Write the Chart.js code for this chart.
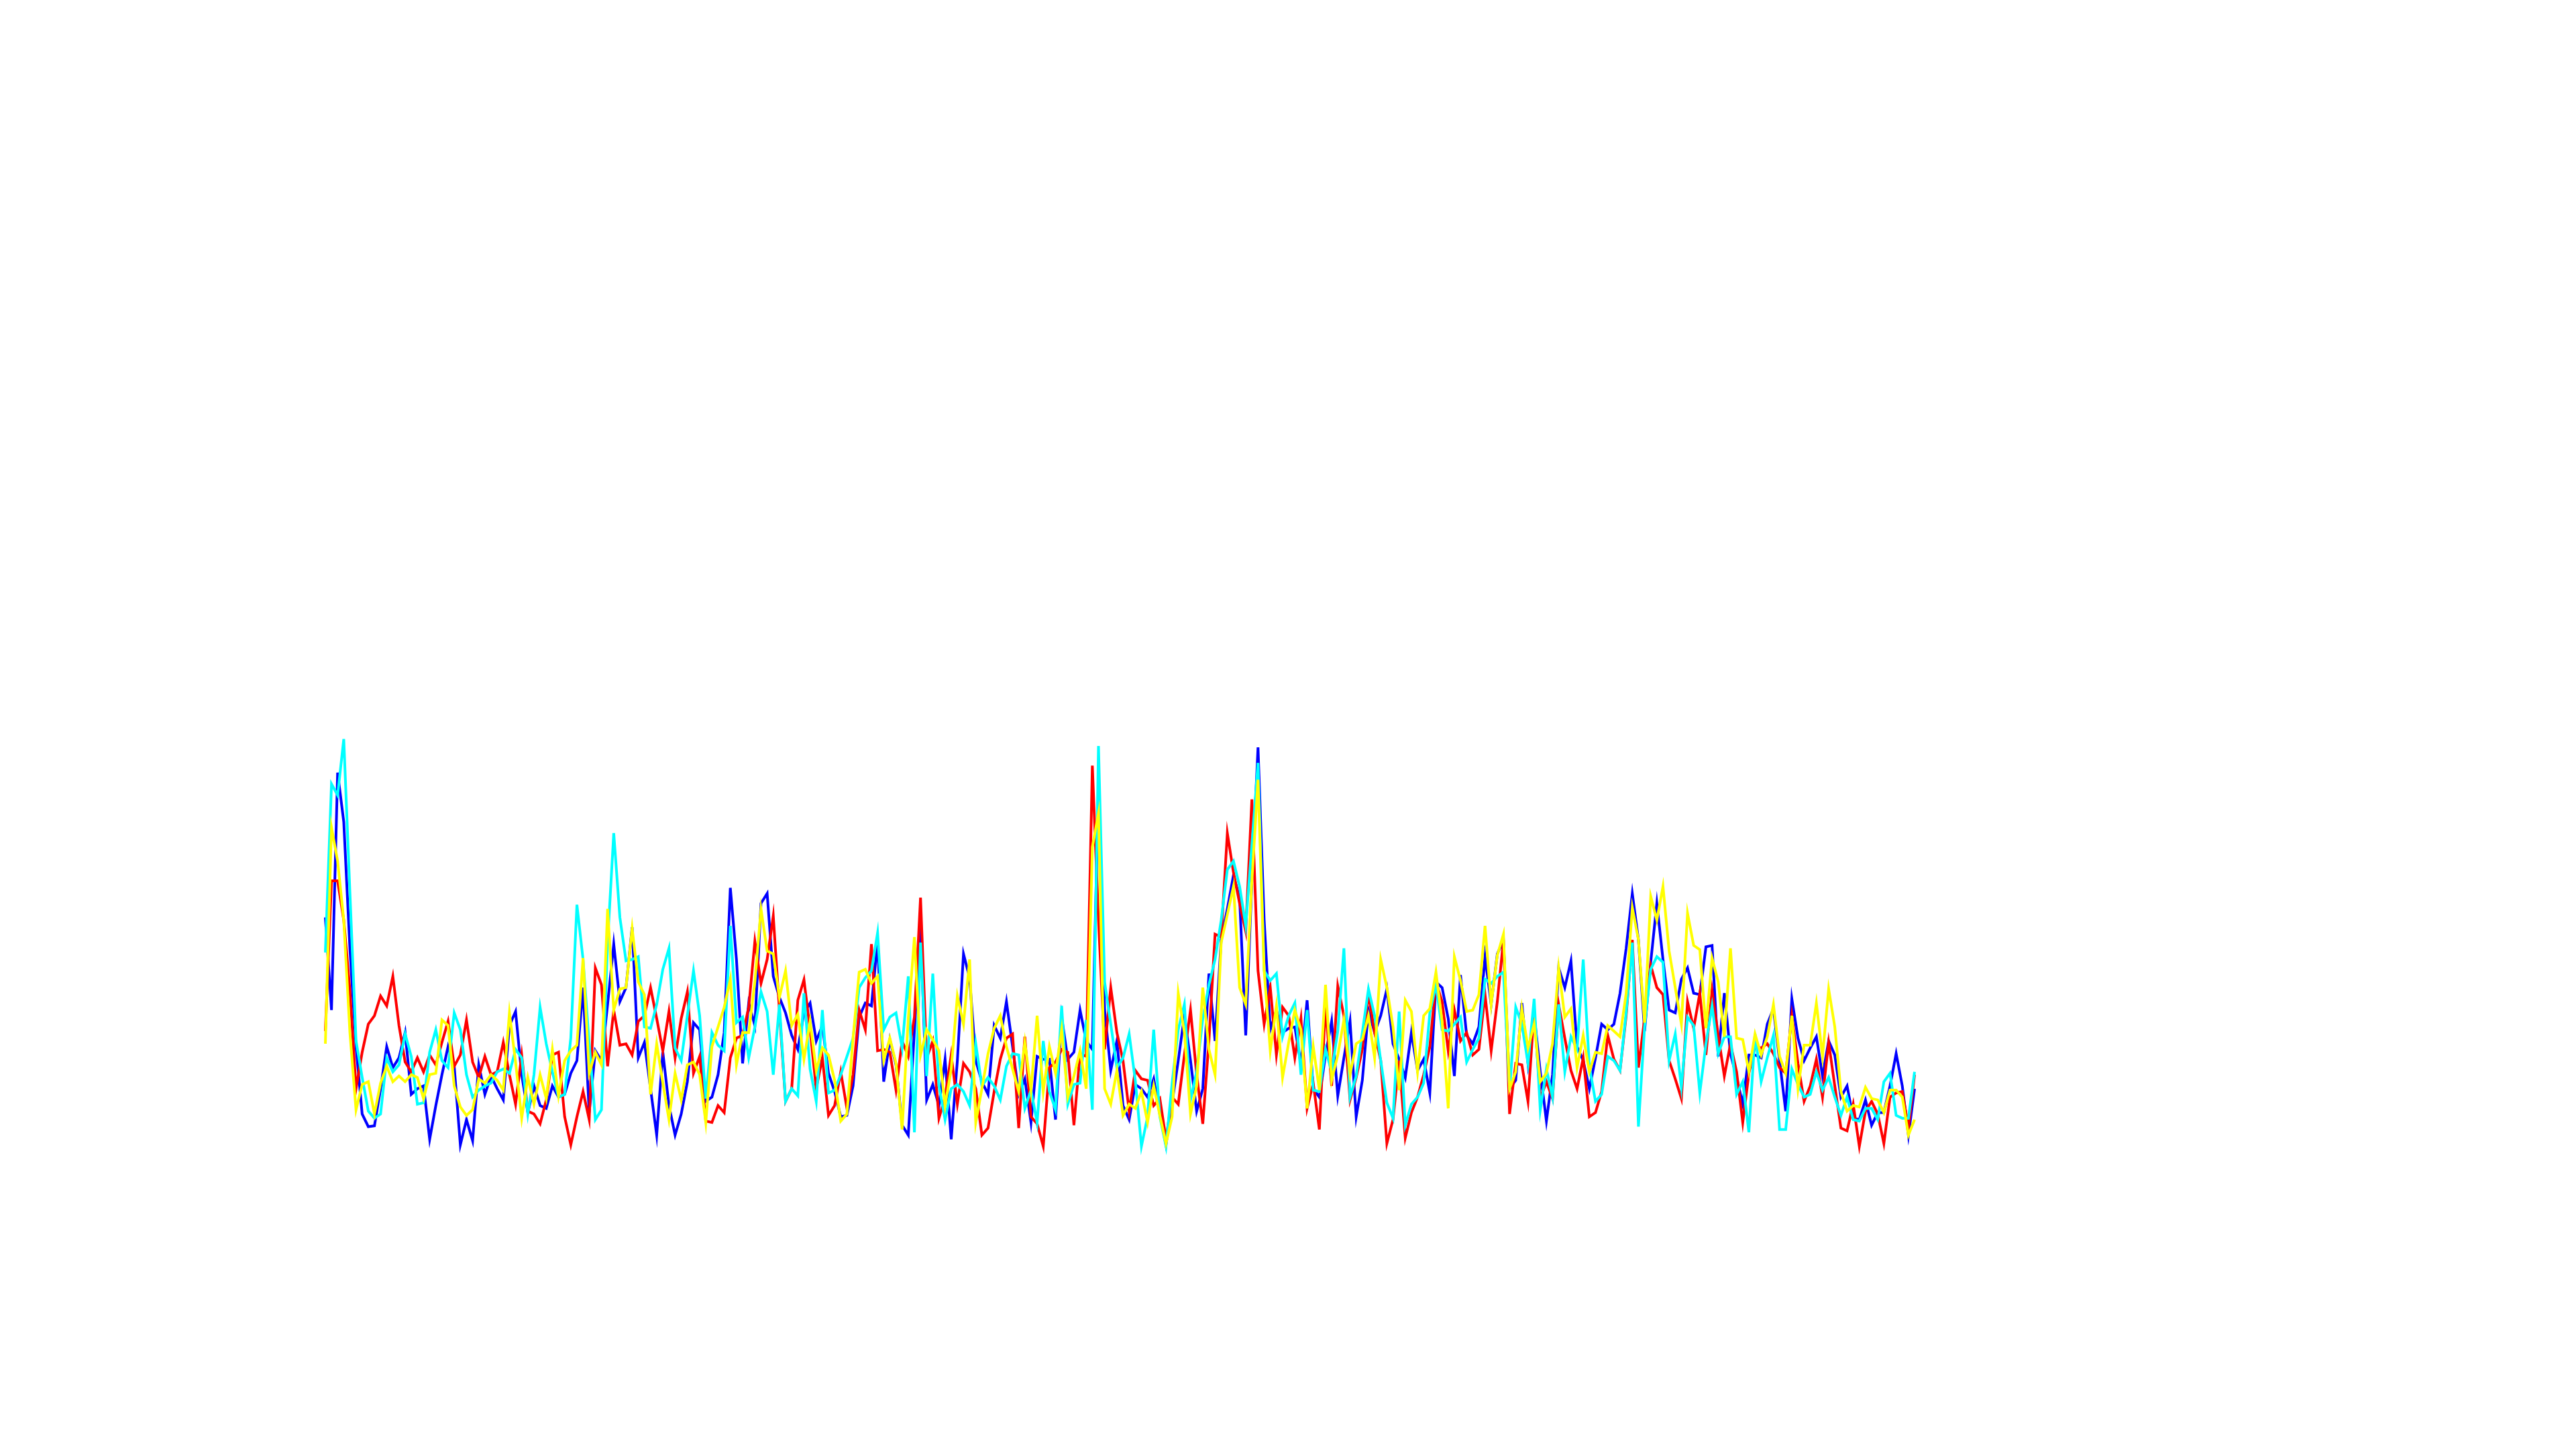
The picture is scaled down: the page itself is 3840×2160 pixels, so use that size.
<!DOCTYPE html>
<html>
<head>
<meta charset="utf-8">
<script src="https://cdn.jsdelivr.net/npm/chart.js@4.4.1/dist/chart.umd.min.js"></script>
<style>
  html, body { margin: 0; padding: 0; background: #ffffff; }
  #wrap { width: 3840px; height: 2160px; }
</style>
</head>
<body>
<div id="wrap"><canvas id="lineChart" width="3840" height="2160"></canvas></div>
<script>
// series values, one per sample
const blueSeries = [
  850, 520, 1365, 1190, 740, 390, 150, 105, 108, 240,
  390, 315, 350, 440, 220, 240, 250, 60, 180, 290,
  390, 320, 40, 130, 55, 325, 220, 285, 240, 200,
  465, 515, 290, 155, 250, 180, 170, 250, 210, 220,
  295, 340, 600, 155, 375, 340, 540, 755, 550, 600,
  815, 350, 405, 240, 75, 370, 180, 75, 150, 265,
  475, 450, 195, 210, 290, 440, 955, 700, 330, 545,
  465, 900, 935, 640, 565, 510, 430, 380, 510, 545,
  410, 465, 295, 230, 140, 145, 250, 495, 545, 535,
  765, 265, 415, 325, 110, 75, 445, 815, 200, 255,
  180, 345, 60, 340, 720, 635, 340, 265, 220, 465,
  420, 550, 390, 220, 275, 120, 355, 345, 345, 130,
  495, 345, 370, 520, 410, 380, 1320, 520, 305, 410,
  180, 130, 255, 240, 210, 275, 150, 40, 190, 340,
  500, 340, 160, 240, 650, 410, 770, 880, 1000, 920,
  430, 980, 1455, 840, 450, 520, 440, 455, 460, 325,
  555, 240, 210, 360, 480, 215, 350, 480, 140, 270,
  520, 440, 500, 595, 400, 345, 280, 440, 305, 345,
  225, 620, 600, 490, 285, 645, 430, 400, 460, 710,
  540, 720, 770, 240, 270, 545, 330, 505, 300, 125,
  290, 670, 600, 695, 390, 340, 240, 350, 470, 450,
  470, 580, 740, 935, 770, 445, 690, 900, 700, 520,
  510, 630, 670, 580, 575, 745, 750, 355, 580, 365,
  280, 185, 360, 360, 350, 470, 525, 340, 160, 560,
  420, 340, 385, 425, 285, 410, 360, 210, 250, 135,
  130, 200, 110, 155, 155, 250, 365, 250, 75, 240
];

const redSeries = [
  445, 980, 980, 840, 590, 240, 370, 470, 500, 570,
  535, 640, 465, 335, 300, 350, 300, 360, 325, 405,
  480, 320, 360, 485, 335, 280, 355, 290, 300, 405,
  290, 185, 360, 160, 150, 115, 200, 360, 370, 140,
  40, 140, 230, 130, 670, 610, 320, 520, 395, 400,
  360, 480, 500, 600, 490, 375, 515, 350, 490, 585,
  295, 355, 125, 120, 180, 155, 350, 420, 430, 530,
  765, 615, 700, 855, 520, 195, 240, 555, 628, 450,
  240, 350, 145, 180, 300, 170, 290, 520, 450, 755,
  375, 380, 370, 235, 410, 355, 495, 920, 350, 410,
  135, 210, 360, 185, 330, 300, 240, 75, 100, 230,
  345, 420, 435, 100, 425, 140, 115, 35, 315, 335,
  380, 370, 110, 365, 355, 1390, 840, 380, 600, 440,
  340, 160, 305, 275, 270, 180, 205, 60, 210, 185,
  360, 520, 290, 115, 410, 790, 780, 1150, 1010, 900,
  800, 1270, 660, 470, 600, 360, 530, 500, 350, 490,
  170, 260, 95, 540, 250, 605, 500, 200, 280, 380,
  580, 440, 340, 45, 130, 340, 65, 155, 210, 290,
  390, 620, 550, 375, 520, 410, 440, 360, 380, 575,
  375, 550, 770, 150, 330, 325, 195, 520, 205, 265,
  205, 540, 420, 305, 240, 350, 140, 155, 230, 430,
  345, 305, 500, 770, 315, 490, 680, 600, 575, 340,
  275, 205, 550, 455, 580, 360, 590, 430, 285, 400,
  300, 120, 295, 390, 385, 400, 365, 315, 295, 500,
  330, 195, 250, 345, 210, 405, 250, 100, 90, 185,
  35, 160, 195, 150, 45, 210, 225, 230, 100, 290
];

const cyanSeries = [
  725, 1325, 1285, 1485, 940, 410, 280, 160, 135, 150,
  350, 300, 325, 435, 355, 185, 190, 370, 450, 340,
  315, 510, 450, 290, 210, 235, 250, 260, 300, 310,
  295, 380, 350, 150, 290, 530, 400, 300, 210, 220,
  420, 895, 700, 400, 130, 165, 760, 1150, 850, 695,
  700, 710, 460, 455, 540, 665, 740, 385, 340, 500,
  660, 500, 205, 440, 395, 375, 820, 475, 495, 350,
  460, 585, 515, 290, 540, 195, 240, 215, 580, 310,
  195, 520, 225, 235, 290, 355, 420, 600, 635, 660,
  795, 450, 495, 510, 385, 640, 85, 760, 285, 650,
  250, 130, 240, 255, 230, 180, 400, 250, 280, 250,
  200, 320, 365, 360, 170, 235, 120, 410, 230, 165,
  535, 185, 255, 260, 485, 165, 1460, 620, 470, 315,
  350, 435, 270, 35, 140, 450, 140, 35, 260, 450,
  540, 200, 300, 490, 610, 700, 840, 1020, 1050, 960,
  820, 1110, 1400, 660, 625, 650, 425, 500, 545, 290,
  520, 235, 230, 380, 300, 445, 740, 210, 285, 440,
  595, 500, 340, 190, 135, 515, 110, 185, 210, 260,
  510, 610, 450, 445, 470, 495, 335, 380, 420, 630,
  615, 640, 655, 235, 530, 470, 330, 560, 165, 310,
  210, 540, 300, 425, 380, 700, 320, 195, 220, 355,
  340, 305, 510, 760, 105, 460, 665, 710, 690, 340,
  435, 245, 495, 465, 225, 400, 535, 365, 425, 425,
  220, 265, 85, 435, 265, 350, 430, 95, 95, 310,
  255, 210, 220, 300, 235, 280, 210, 145, 210, 130,
  125, 170, 170, 130, 265, 295, 145, 135, 135, 300
];

const yellowSeries = [
  400, 1170, 1050, 840, 440, 165, 255, 265, 150, 260,
  320, 265, 285, 265, 290, 280, 205, 290, 295, 485,
  465, 250, 175, 145, 165, 275, 260, 290, 270, 235,
  510, 335, 135, 280, 185, 290, 205, 380, 215, 340,
  375, 395, 705, 295, 370, 325, 880, 520, 595, 600,
  810, 620, 575, 220, 400, 260, 130, 295, 200, 325,
  335, 290, 120, 390, 460, 530, 630, 325, 440, 440,
  620, 880, 730, 720, 565, 660, 465, 505, 345, 480,
  305, 385, 360, 270, 125, 150, 420, 655, 665, 615,
  640, 340, 420, 330, 95, 490, 780, 360, 450, 415,
  375, 180, 310, 570, 470, 700, 120, 240, 365, 455,
  500, 390, 310, 230, 405, 235, 500, 230, 390, 295,
  450, 210, 285, 375, 240, 1100, 1220, 240, 185, 305,
  145, 185, 170, 230, 120, 250, 145, 45, 140, 580,
  440, 150, 250, 600, 380, 290, 760, 860, 960, 600,
  540, 980, 1340, 660, 375, 535, 280, 405, 520, 450,
  170, 390, 235, 610, 270, 360, 485, 290, 400, 415,
  500, 350, 700, 600, 460, 235, 555, 515, 300, 500,
  525, 655, 480, 170, 710, 625, 515, 520, 575, 820,
  540, 715, 790, 240, 300, 525, 385, 470, 265, 295,
  400, 670, 495, 525, 315, 430, 300, 370, 365, 465,
  445, 425, 580, 885, 770, 475, 925, 840, 960, 730,
  600, 470, 865, 750, 735, 455, 705, 620, 425, 740,
  420, 415, 300, 435, 360, 425, 540, 355, 295, 500,
  240, 395, 395, 545, 355, 595, 460, 230, 160, 180,
  175, 245, 205, 200, 155, 235, 235, 210, 75, 130
];

// sample numbers along x
const sampleLabels = blueSeries.map((_, i) => i + 1);

// value range and the (white) grid steps of the y axis
const yMin = 1;
const yMax = 3600;
const yStep = 597;

function makeSeries(label, data, color, order) {
  return {
    label: label,
    data: data,
    borderColor: color,
    backgroundColor: color,
    borderWidth: 4,
    pointRadius: 0,
    pointHoverRadius: 0,
    tension: 0,
    fill: false,
    order: order
  };
}

try {
  const ctx = document.getElementById('lineChart').getContext('2d');
  new Chart(ctx, {
    type: 'line',
    data: {
      labels: sampleLabels,
      datasets: [
        makeSeries('blue', blueSeries, '#0000ff', 3),
        makeSeries('red', redSeries, '#ff0000', 2),
        makeSeries('cyan', cyanSeries, '#00ffff', 1),
        makeSeries('yellow', yellowSeries, '#ffff00', 0)
      ]
    },
    options: {
      responsive: false,
      devicePixelRatio: 1,
      animation: false,
      events: [],
      layout: {
        padding: { left: 485, right: 986, top: 216, bottom: 437 }
      },
      plugins: {
        legend: { display: false },
        tooltip: { enabled: false }
      },
      scales: {
        x: {
          display: false,
          offset: false
        },
        y: {
          display: true,
          min: yMin,
          max: yMax,
          z: 1,
          afterFit: (scale) => { scale.width = 0; },
          ticks: { display: false, stepSize: yStep },
          border: { display: false },
          grid: { color: '#ffffff', lineWidth: 2, drawTicks: false }
        }
      }
    }
  });
} catch (e) {
  console.log(e);
}
</script>
</body>
</html>
